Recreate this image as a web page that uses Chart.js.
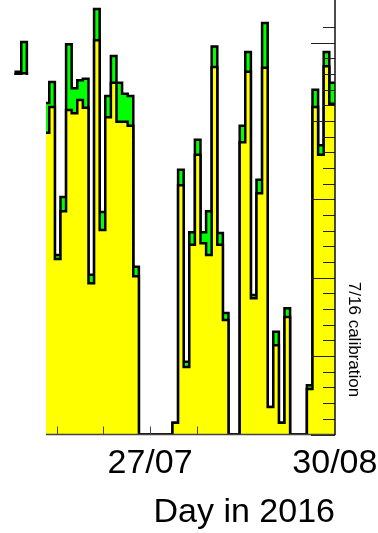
<!DOCTYPE html>
<html>
<head>
<meta charset="utf-8">
<script src="https://cdn.jsdelivr.net/npm/chart.js@4/dist/chart.umd.min.js"></script>
<style>
html,body{margin:0;padding:0;background:#fff;}
canvas{display:block;}
</style>
</head>
<body>
<canvas id="c" width="378" height="533"></canvas>
<script>
// Day of year (2016) at which each daily bin starts
const binDays = [184,185,186,187,188,189,190,191,192,193,194,195,196,197,198,199,200,
  201,202,203,204,205,206,207,208,209,210,211,212,213,214,215,216,217,218,219,220,
  221,222,223,224,225,226,227,228,229,230,231,232,233,234,235,236,237,238,239,240,241];
// Total (green, all runs) per day
const totalValues = [0,4.63,5.01,4.0,4.0,4.0,4.23,4.50,2.29,3.03,4.98,4.42,4.52,4.54,2.04,5.43,2.84,
  4.32,4.83,4.49,4.35,4.32,2.14,0,0,0,0,0,0,0.15,3.38,0.93,2.58,3.76,2.58,2.85,4.95,
  2.57,1.55,0,0,3.94,4.88,1.78,3.25,5.25,0.35,1.31,0.15,1.61,0,0,0,0.63,4.40,3.69,4.88,4.49];
// Yellow part per day
const yellowValues = [0,4.60,4.61,3.8,3.8,3.8,3.85,4.18,2.24,2.85,4.14,4.10,4.27,4.17,1.93,5.03,2.61,
  4.05,4.49,3.99,3.99,3.94,2.02,0,0,0,0,0,0,0.15,3.18,0.86,2.42,3.57,2.44,2.29,4.69,
  2.42,1.46,0,0,3.73,4.63,1.74,3.08,4.68,0.35,1.14,0.15,1.50,0,0,0,0.58,4.18,3.57,4.70,4.22];
// Axis ticks / labels
const xTickMarkDays = [192.33, 200.67, 209, 217.33];
const xLabelDays = [209, 242];
const xLabelTexts = ['27/07', '30/08'];
const xRange = [182.2, 242.02];
const yRange = [0, 5.545];
const yTitle = '7/16 calibration';
const xTitle = 'Day in 2016';

function histPoints(days, vals) {
  const pts = days.map((d, i) => ({x: d, y: vals[i]}));
  pts.push({x: days[days.length - 1] + 1, y: vals[vals.length - 1]});
  return pts;
}

const FONT = 'Liberation Sans, Arial, Helvetica, sans-serif';

const decor = {
  id: 'decor',
  afterDatasetsDraw(chart) {
    const {ctx, chartArea: a, scales: {x, y}} = chart;
    ctx.save();
    // right axis ticks (pointing inward)
    ctx.strokeStyle = '#222';
    ctx.lineWidth = 1;
    y.ticks.forEach(t => {
      const v = t.value;
      if (Math.abs(v * 5 - Math.round(v * 5)) > 1e-6) return;
      const major = Math.abs(v - Math.round(v)) < 1e-6;
      const py = Math.round(y.getPixelForValue(v)) + 0.5;
      ctx.beginPath();
      ctx.moveTo(a.right, py);
      ctx.lineTo(a.right - (major ? 24 : 12), py);
      ctx.stroke();
    });
    // bottom axis ticks (pointing up)
    ctx.strokeStyle = '#444';
    xTickMarkDays.forEach(d => {
      const px = Math.round(x.getPixelForValue(d)) + 0.5;
      ctx.beginPath();
      ctx.moveTo(px, a.bottom);
      ctx.lineTo(px, a.bottom - 8);
      ctx.stroke();
    });
    // axis lines
    ctx.lineWidth = 1.5;
    ctx.strokeStyle = '#444';
    ctx.beginPath();
    ctx.moveTo(a.left, a.bottom);
    ctx.lineTo(a.right, a.bottom);
    ctx.stroke();
    ctx.strokeStyle = '#111';
    ctx.beginPath();
    ctx.moveTo(a.right, 0);
    ctx.lineTo(a.right, a.bottom + 0.75);
    ctx.stroke();
    ctx.restore();
  },
  afterDraw(chart) {
    const {ctx, chartArea: a} = chart;
    ctx.save();
    // white cover on the left (as in the reference)
    ctx.fillStyle = '#fff';
    ctx.fillRect(0, 75, 46, chart.height - 75);
    // right axis title, rotated
    ctx.fillStyle = '#000';
    ctx.font = '17px ' + FONT;
    ctx.translate(a.right + 18.5, 339.5);
    ctx.rotate(Math.PI / 2);
    ctx.textAlign = 'center';
    ctx.textBaseline = 'middle';
    ctx.fillText(yTitle, 0, 0);
    ctx.restore();
  }
};

new Chart(document.getElementById('c'), {
  type: 'line',
  data: {
    datasets: [
      {
        label: 'yellow',
        data: histPoints(binDays, yellowValues),
        backgroundColor: '#ffff00',
        borderColor: '#000',
        borderWidth: 2.5,
        fill: 'origin',
        stepped: 'before',
        pointRadius: 0,
        tension: 0,
        borderJoinStyle: 'miter'
      },
      {
        label: 'total',
        data: histPoints(binDays, totalValues),
        backgroundColor: '#00ff00',
        borderColor: '#000',
        borderWidth: 2.5,
        fill: 'origin',
        stepped: 'before',
        pointRadius: 0,
        tension: 0,
        borderJoinStyle: 'miter'
      }
    ]
  },
  options: {
    responsive: false,
    animation: false,
    devicePixelRatio: 1,
    layout: {padding: 0},
    plugins: {legend: {display: false}, tooltip: {enabled: false}},
    scales: {
      x: {
        type: 'linear',
        min: xRange[0],
        max: xRange[1],
        grid: {display: false, drawTicks: false},
        border: {display: false},
        afterBuildTicks: s => {
          const vals = Array.from(new Set(xTickMarkDays.concat(xLabelDays))).sort((p, q) => p - q);
          s.ticks = vals.map(v => ({value: v}));
        },
        ticks: {
          autoSkip: false,
          maxRotation: 0,
          minRotation: 0,
          padding: 9,
          color: '#000',
          font: {family: FONT, size: 34},
          callback: v => {
            const i = xLabelDays.findIndex(d => Math.abs(d - v) < 1e-6);
            return i >= 0 ? xLabelTexts[i] : '';
          }
        },
        title: {
          display: true,
          text: xTitle,
          align: 'end',
          color: '#000',
          font: {family: FONT, size: 34},
          padding: {top: 0, bottom: 0}
        },
        afterFit: s => { s.height = 98.5; s.paddingLeft = 0; s.paddingRight = 0; }
      },
      y: {
        type: 'linear',
        position: 'right',
        min: yRange[0],
        max: yRange[1],
        grid: {display: false, drawTicks: false},
        border: {display: false},
        ticks: {display: false, stepSize: 0.2},
        afterFit: s => { s.width = 43; s.paddingTop = 0; s.paddingBottom = 0; }
      }
    }
  },
  plugins: [decor]
});
</script>
</body>
</html>
